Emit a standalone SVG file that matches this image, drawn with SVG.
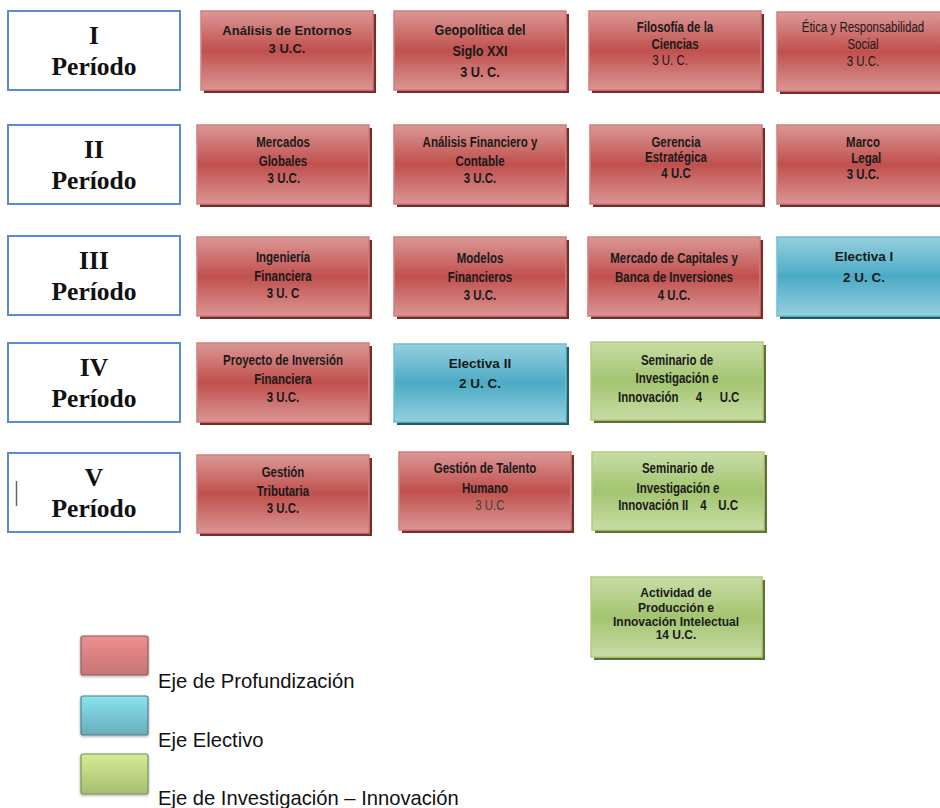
<svg xmlns="http://www.w3.org/2000/svg" width="940" height="808" viewBox="0 0 940 808">
<style>
.per{fill:#ffffff;stroke:#5b8bd6;stroke-width:2}
.pt{font-family:"Liberation Serif","Times New Roman",serif;font-weight:bold;font-size:25.5px;fill:#111;text-anchor:middle}
.red{fill:url(#gR);stroke:#d27e7c;stroke-width:1.5}
.redS{fill:#7a2b29}
.blu{fill:url(#gB);stroke:#6cc0d4;stroke-width:1.5}
.bluS{fill:#20596a}
.grn{fill:url(#gG);stroke:#b2cb82;stroke-width:1.5}
.grnS{fill:#5d7231}
.n{font-family:"Liberation Sans",Arial,sans-serif;font-weight:bold;font-size:14px;fill:#1a1a1a;text-anchor:middle}
.r{font-family:"Liberation Sans",Arial,sans-serif;font-weight:normal;font-size:14px;fill:#1a1a1a;text-anchor:middle}
.a{font-family:"Liberation Sans",Arial,sans-serif;font-weight:bold;font-size:13px;fill:#1a1a1a;text-anchor:middle}
.s{text-anchor:start}
.lg{font-family:"Liberation Sans",Arial,sans-serif;font-size:20.2px;fill:#111}
</style>
<defs>
<linearGradient id="gR" x1="0" y1="0" x2="0" y2="1">
<stop offset="0" stop-color="#db9896"/><stop offset="0.5" stop-color="#c0504d"/><stop offset="1" stop-color="#da9694"/>
</linearGradient>
<linearGradient id="gB" x1="0" y1="0" x2="0" y2="1">
<stop offset="0" stop-color="#96cfde"/><stop offset="0.5" stop-color="#4babc5"/><stop offset="1" stop-color="#96cfde"/>
</linearGradient>
<linearGradient id="gG" x1="0" y1="0" x2="0" y2="1">
<stop offset="0" stop-color="#c8dda6"/><stop offset="0.5" stop-color="#a3c470"/><stop offset="1" stop-color="#c8dda6"/>
</linearGradient>
<linearGradient id="lR" x1="0" y1="0" x2="0" y2="1">
<stop offset="0" stop-color="#ee8f8e"/><stop offset="1" stop-color="#c47675"/>
</linearGradient>
<linearGradient id="lB" x1="0" y1="0" x2="0" y2="1">
<stop offset="0" stop-color="#8ae3f0"/><stop offset="1" stop-color="#69acbc"/>
</linearGradient>
<linearGradient id="lG" x1="0" y1="0" x2="0" y2="1">
<stop offset="0" stop-color="#d6eb92"/><stop offset="1" stop-color="#a6bd72"/>
</linearGradient>
<filter id="soft" x="-20%" y="-20%" width="140%" height="140%">
<feGaussianBlur in="SourceAlpha" stdDeviation="1.5"/><feOffset dx="0" dy="1"/>
<feComponentTransfer><feFuncA type="linear" slope="0.35"/></feComponentTransfer>
<feMerge><feMergeNode/><feMergeNode in="SourceGraphic"/></feMerge>
</filter>
</defs>

<!-- Period boxes -->
<g id="p1"><rect class="per" x="8" y="11" width="172" height="79"/><text class="pt" x="94" y="44">I</text><text class="pt" x="94" y="75">Período</text></g>
<g id="p2"><rect class="per" x="8" y="125" width="172" height="79"/><text class="pt" x="94" y="158">II</text><text class="pt" x="94" y="189">Período</text></g>
<g id="p3"><rect class="per" x="8" y="236" width="172" height="79"/><text class="pt" x="94" y="269">III</text><text class="pt" x="94" y="300">Período</text></g>
<g id="p4"><rect class="per" x="8" y="343" width="172" height="79"/><text class="pt" x="94" y="376">IV</text><text class="pt" x="94" y="407">Período</text></g>
<g id="p5"><rect class="per" x="8" y="453" width="172" height="79"/><line x1="16.5" y1="481" x2="16.5" y2="506" stroke="#666" stroke-width="1.5"/><text class="pt" x="94" y="486">V</text><text class="pt" x="94" y="517">Período</text></g>

<!-- Row 1 -->
<g id="analisis-entornos"><rect class="redS" x="204" y="14" width="172" height="79"/><rect class="red" x="201" y="11" width="172" height="79"/>
<text class="a" x="287" y="35">Análisis de Entornos</text><text class="a" x="287" y="53">3 U.C.</text></g>
<g id="geopolitica"><rect class="redS" x="397" y="14" width="172" height="79"/><rect class="red" x="394" y="11" width="172" height="79"/>
<g transform="translate(480 0) scale(0.82 1)"><text class="n" x="0" y="35" style="font-size:15.5px">Geopolítica del</text><text class="n" x="0" y="56" style="font-size:15.5px">Siglo XXI</text><text class="n" x="0" y="77" style="font-size:15.5px">3 U. C.</text></g></g>
<g id="filosofia"><rect class="redS" x="592" y="14" width="172" height="79"/><rect class="red" x="589" y="11" width="172" height="79"/>
<g transform="translate(675 0) scale(0.82 1)"><text class="n" x="0" y="32">Filosofía de la</text><text class="n" x="0" y="49">Ciencias</text><text class="r" x="-6" y="65">3 U. C.</text></g></g>
<g id="etica"><rect class="redS" x="780" y="15" width="172" height="79"/><rect class="red" x="777" y="12" width="172" height="79"/>
<g transform="translate(863 0) scale(0.82 1)"><text class="r" x="0" y="32">Ética y Responsabilidad</text><text class="r" x="0" y="49">Social</text><text class="r" x="0" y="66">3 U.C.</text></g></g>

<!-- Row 2 -->
<g id="mercados-globales"><rect class="redS" x="200" y="128" width="172" height="79"/><rect class="red" x="197" y="125" width="172" height="79"/>
<g transform="translate(283 0) scale(0.82 1)"><text class="n" x="0" y="147">Mercados</text><text class="n" x="0" y="166">Globales</text><text class="n" x="1" y="183">3 U.C.</text></g></g>
<g id="analisis-financiero"><rect class="redS" x="397" y="128" width="172" height="79"/><rect class="red" x="394" y="125" width="172" height="79"/>
<g transform="translate(480 0) scale(0.82 1)"><text class="n" x="0" y="147">Análisis Financiero y</text><text class="n" x="0" y="166">Contable</text><text class="n" x="0" y="183">3 U.C.</text></g></g>
<g id="gerencia"><rect class="redS" x="593" y="128" width="172" height="79"/><rect class="red" x="590" y="125" width="172" height="79"/>
<g transform="translate(676 0) scale(0.82 1)"><text class="n" x="0" y="147">Gerencia</text><text class="n" x="0" y="162">Estratégica</text><text class="n" x="0" y="178">4 U.C</text></g></g>
<g id="marco-legal"><rect class="redS" x="780" y="128" width="172" height="79"/><rect class="red" x="777" y="125" width="172" height="79"/>
<g transform="translate(863 0) scale(0.82 1)"><text class="n" x="0" y="147">Marco</text><text class="n" x="4" y="163">Legal</text><text class="n" x="0" y="179">3 U.C.</text></g></g>

<!-- Row 3 -->
<g id="ingenieria"><rect class="redS" x="200" y="240" width="172" height="79"/><rect class="red" x="197" y="237" width="172" height="79"/>
<g transform="translate(283 0) scale(0.82 1)"><text class="n" x="0" y="262">Ingeniería</text><text class="n" x="0" y="281">Financiera</text><text class="n" x="0" y="298">3 U. C</text></g></g>
<g id="modelos"><rect class="redS" x="397" y="240" width="172" height="79"/><rect class="red" x="394" y="237" width="172" height="79"/>
<g transform="translate(480 0) scale(0.82 1)"><text class="n" x="0" y="263">Modelos</text><text class="n" x="0" y="282">Financieros</text><text class="n" x="0" y="300">3 U.C.</text></g></g>
<g id="mercado-capitales"><rect class="redS" x="591" y="240" width="172" height="79"/><rect class="red" x="588" y="237" width="172" height="79"/>
<g transform="translate(674 0) scale(0.82 1)"><text class="n" x="0" y="263">Mercado de Capitales y</text><text class="n" x="0" y="282">Banca de Inversiones</text><text class="n" x="0" y="300">4 U.C.</text></g></g>
<g id="electiva-1"><rect class="bluS" x="780" y="240" width="172" height="79"/><rect class="blu" x="777" y="237" width="172" height="79"/>
<text class="a" x="864" y="261" style="font-size:13.5px">Electiva I</text><text class="a" x="864" y="282" style="font-size:13.5px">2 U. C.</text></g>

<!-- Row 4 -->
<g id="proyecto"><rect class="redS" x="200" y="346" width="172" height="79"/><rect class="red" x="197" y="343" width="172" height="79"/>
<g transform="translate(283 0) scale(0.82 1)"><text class="n" x="0" y="365">Proyecto de Inversión</text><text class="n" x="0" y="384">Financiera</text><text class="n" x="0" y="402">3 U.C.</text></g></g>
<g id="electiva-2"><rect class="bluS" x="397" y="347" width="172" height="78"/><rect class="blu" x="394" y="344" width="172" height="78"/>
<text class="a" x="480" y="368" style="font-size:13.5px">Electiva II</text><text class="a" x="480" y="388" style="font-size:13.5px">2 U. C.</text></g>
<g id="seminario-1"><rect class="grnS" x="594" y="345" width="172" height="78"/><rect class="grn" x="591" y="342" width="172" height="78"/>
<g transform="translate(677 0) scale(0.82 1)"><text class="n" x="0" y="365">Seminario de</text><text class="n" x="0" y="383">Investigación e</text>
<text class="n s" y="402"><tspan x="-72">Innovación</tspan><tspan x="23">4</tspan><tspan x="52">U.C</tspan></text></g></g>

<!-- Row 5 -->
<g id="gestion-tributaria"><rect class="redS" x="200" y="458" width="172" height="78"/><rect class="red" x="197" y="455" width="172" height="78"/>
<g transform="translate(283 0) scale(0.82 1)"><text class="n" x="0" y="477">Gestión</text><text class="n" x="0" y="496">Tributaria</text><text class="n" x="0" y="513">3 U.C.</text></g></g>
<g id="gestion-talento"><rect class="redS" x="402" y="455" width="172" height="78"/><rect class="red" x="399" y="452" width="172" height="78"/>
<g transform="translate(485 0) scale(0.82 1)"><text class="n" x="0" y="473">Gestión de Talento</text><text class="n" x="0" y="493">Humano</text><text class="r" x="6" y="510" style="fill:#404040">3 U.C</text></g></g>
<g id="seminario-2"><rect class="grnS" x="595" y="455" width="172" height="78"/><rect class="grn" x="592" y="452" width="172" height="78"/>
<g transform="translate(678 0) scale(0.82 1)"><text class="n" x="0" y="473">Seminario de</text><text class="n" x="0" y="493">Investigación e</text>
<text class="n s" y="510"><tspan x="-73">Innovación II</tspan><tspan x="27">4</tspan><tspan x="49">U.C</tspan></text></g></g>

<!-- Row 6 -->
<g id="actividad"><rect class="grnS" x="594" y="580" width="171" height="80"/><rect class="grn" x="591" y="577" width="171" height="80"/>
<text class="a" x="676" y="597" style="font-size:12px">Actividad de</text><text class="a" x="676" y="612" style="font-size:12px">Producción e</text><text class="a" x="676" y="626" style="font-size:12px">Innovación Intelectual</text><text class="a" x="676" y="639" style="font-size:12px">14 U.C.</text></g>

<!-- Legend -->
<g id="legend-profundizacion"><rect x="81" y="636" width="67" height="39" rx="2" fill="url(#lR)" stroke="#8e5e5d" stroke-width="1.2" filter="url(#soft)"/><text class="lg" x="158" y="688">Eje de Profundización</text></g>
<g id="legend-electivo"><rect x="81" y="696" width="67" height="39" rx="2" fill="url(#lB)" stroke="#4f808c" stroke-width="1.2" filter="url(#soft)"/><text class="lg" x="158" y="747">Eje Electivo</text></g>
<g id="legend-investigacion"><rect x="81" y="754" width="67" height="40" rx="2" fill="url(#lG)" stroke="#7e8f58" stroke-width="1.2" filter="url(#soft)"/><text class="lg" x="158" y="805">Eje de Investigación – Innovación</text></g>
</svg>
